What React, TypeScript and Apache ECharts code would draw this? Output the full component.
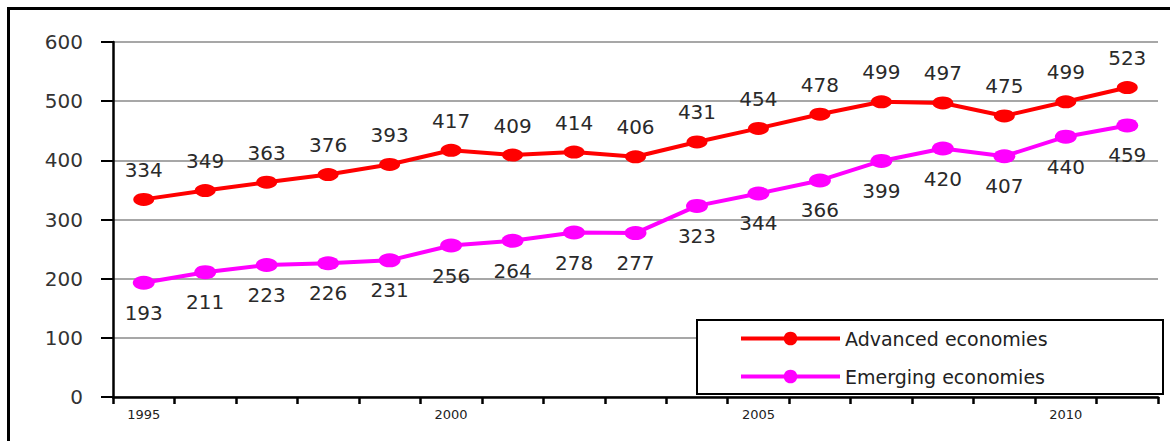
import React, { useEffect, useRef } from "react";
import * as echarts from "echarts";

const years = ["1995","1996","1997","1998","1999","2000","2001","2002","2003","2004","2005","2006","2007","2008","2009","2010","2011"];
const advanced = [334, 349, 363, 376, 393, 417, 409, 414, 406, 431, 454, 478, 499, 497, 475, 499, 523];
const emerging = [193, 211, 223, 226, 231, 256, 264, 278, 277, 323, 344, 366, 399, 420, 407, 440, 459];
const seriesNames = ["Advanced economies", "Emerging economies"];
const yTicks = { min: 0, max: 600, interval: 100 };

const FONT = "DejaVu Sans";

export default function App() {
  const ref = useRef<HTMLDivElement>(null);
  useEffect(() => {
    if (!ref.current) return;
    const chart = echarts.init(ref.current, null, { renderer: "svg" });
    const labelStyle = { show: true, fontFamily: FONT, fontSize: 20, color: "#2a2a2a", distance: 13 };
    chart.setOption({
      animation: false,
      backgroundColor: "#ffffff",
      grid: { left: 113, right: 12, top: 42, bottom: 44, containLabel: false },
      graphic: [
        {
          type: "rect",
          z: 0,
          silent: true,
          shape: { x: 8.5, y: 8.5, width: 2000, height: 1000 },
          style: { fill: "none", stroke: "#000", lineWidth: 3 },
        },
        {
          type: "rect",
          z: 50,
          silent: true,
          shape: { x: 697, y: 320, width: 466, height: 74 },
          style: { fill: "#fff", stroke: "#000", lineWidth: 2 },
        },
      ],
      legend: {
        z: 60,
        orient: "vertical",
        left: 739,
        top: 329,
        padding: 0,
        itemWidth: 99,
        itemHeight: 17,
        itemGap: 19,
        lineStyle: { width: 4 },
        textStyle: { fontFamily: FONT, fontSize: 19, color: "#222" },
        data: seriesNames,
      },
      xAxis: {
        type: "category",
        data: years,
        boundaryGap: true,
        axisLine: { lineStyle: { color: "#000", width: 2.5 } },
        axisTick: { show: true, interval: 0, length: 7, lineStyle: { color: "#000", width: 2.5 } },
        axisLabel: { interval: 4, margin: 11, fontFamily: FONT, fontSize: 13, color: "#222" },
        splitLine: { show: false },
      },
      yAxis: {
        type: "value",
        min: yTicks.min,
        max: yTicks.max,
        interval: yTicks.interval,
        axisLine: { show: true, lineStyle: { color: "#000", width: 2.5 } },
        axisTick: { show: true, length: 12, lineStyle: { color: "#000", width: 2 } },
        axisLabel: { margin: 30, fontFamily: FONT, fontSize: 20, color: "#333" },
        splitLine: { show: true, lineStyle: { color: "#8a8a8a", width: 1.5 } },
      },
      series: [
        {
          name: seriesNames[0],
          type: "line",
          data: advanced,
          symbol: "circle",
          symbolSize: [21, 13],
          itemStyle: { color: "#ff0000" },
          lineStyle: { color: "#ff0000", width: 4 },
          label: { ...labelStyle, position: "top" },
        },
        {
          name: seriesNames[1],
          type: "line",
          data: emerging,
          symbol: "circle",
          symbolSize: [22, 14],
          itemStyle: { color: "#ff00ff" },
          lineStyle: { color: "#ff00ff", width: 4 },
          label: { ...labelStyle, position: "bottom" },
        },
      ],
    });
    return () => chart.dispose();
  }, []);
  return <div ref={ref} style={{ position: "absolute", left: 0, top: 0, width: 1170, height: 441 }} />;
}
